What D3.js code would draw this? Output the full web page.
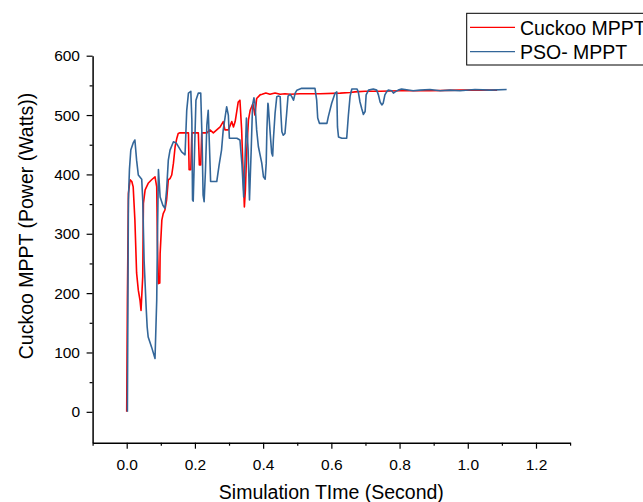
<!DOCTYPE html>
<html>
<head>
<meta charset="utf-8">
<script src="https://cdn.jsdelivr.net/npm/d3@7"></script>
<style>
body { margin: 0; background: #fff; }
svg text { font-family: "Liberation Sans", Arial, sans-serif; fill: #000; }
</style>
</head>
<body>
<div id="chart"></div>
<script>
// values
let cuckooTime = [0, 0.002, 0.005, 0.010, 0.015, 0.019, 0.024, 0.029, 0.034, 0.039, 0.042, 0.047, 0.049, 0.054, 0.063, 0.073, 0.083, 0.088, 0.090, 0.093, 0.097, 0.098, 0.103, 0.107, 0.112, 0.117, 0.122, 0.127, 0.132, 0.137, 0.142, 0.147, 0.151, 0.156, 0.181, 0.183, 0.188, 0.191, 0.210, 0.213, 0.217, 0.220, 0.235, 0.244, 0.254, 0.264, 0.274, 0.283, 0.288, 0.298, 0.308, 0.313, 0.318, 0.327, 0.332, 0.337, 0.342, 0.345, 0.348, 0.352, 0.357, 0.362, 0.370, 0.376, 0.381, 0.391, 0.397, 0.408, 0.420, 0.435, 0.450, 0.464, 0.479, 0.508, 0.567, 0.626, 0.655, 0.669, 0.699, 0.743, 0.802, 0.889, 0.977, 1.086];
let cuckooPower = [0, 188, 368, 391, 388, 379, 323, 234, 205, 188, 171, 228, 351, 374, 385, 391, 396, 379, 289, 216, 217, 267, 323, 334, 340, 357, 391, 393, 399, 419, 447, 461, 469, 470, 470, 408, 408, 470, 470, 416, 416, 470, 470, 475, 470, 475, 480, 489, 475, 475, 489, 480, 489, 522, 525, 475, 391, 345, 374, 441, 492, 508, 519, 500, 528, 534, 535, 537, 535, 537, 535, 536, 535, 536, 536, 537, 538, 539, 540, 540, 541, 541, 542, 542];

let psoTime = [0.002, 0.005, 0.008, 0.012, 0.019, 0.024, 0.029, 0.034, 0.044, 0.047, 0.051, 0.057, 0.060, 0.063, 0.073, 0.083, 0.088, 0.090, 0.093, 0.098, 0.106, 0.112, 0.117, 0.122, 0.127, 0.137, 0.145, 0.161, 0.171, 0.176, 0.181, 0.188, 0.191, 0.193, 0.195, 0.199, 0.203, 0.210, 0.217, 0.221, 0.224, 0.227, 0.231, 0.235, 0.239, 0.243, 0.246, 0.264, 0.271, 0.278, 0.283, 0.293, 0.298, 0.301, 0.323, 0.332, 0.338, 0.343, 0.347, 0.351, 0.356, 0.360, 0.365, 0.369, 0.373, 0.376, 0.381, 0.386, 0.396, 0.401, 0.406, 0.409, 0.411, 0.414, 0.415, 0.420, 0.425, 0.428, 0.430, 0.435, 0.440, 0.445, 0.450, 0.452, 0.455, 0.459, 0.464, 0.469, 0.473, 0.479, 0.484, 0.489, 0.494, 0.499, 0.513, 0.552, 0.557, 0.560, 0.565, 0.587, 0.591, 0.601, 0.611, 0.616, 0.618, 0.621, 0.631, 0.645, 0.650, 0.655, 0.660, 0.675, 0.679, 0.684, 0.689, 0.694, 0.699, 0.702, 0.709, 0.723, 0.733, 0.738, 0.743, 0.748, 0.752, 0.757, 0.762, 0.767, 0.777, 0.782, 0.787, 0.796, 0.806, 0.840, 0.860, 0.889, 0.919, 0.948, 0.977, 1.021, 1.065, 1.114];
let psoPower = [0, 357, 408, 441, 453, 458, 424, 399, 392, 357, 255, 176, 143, 126, 109, 90, 188, 289, 408, 362, 348, 343, 374, 424, 441, 455, 453, 438, 433, 508, 537, 540, 492, 357, 355, 441, 525, 537, 537, 458, 365, 354, 408, 483, 508, 441, 388, 388, 416, 441, 475, 514, 500, 461, 461, 458, 416, 362, 425, 495, 441, 357, 441, 517, 529, 520, 475, 447, 419, 396, 392, 419, 475, 520, 517, 475, 436, 431, 458, 503, 531, 532, 531, 503, 472, 466, 469, 503, 532, 535, 531, 525, 537, 542, 545, 545, 525, 495, 486, 486, 497, 520, 537, 539, 480, 463, 461, 461, 500, 532, 544, 544, 539, 522, 511, 501, 506, 534, 542, 544, 542, 534, 522, 517, 520, 534, 539, 542, 541, 537, 539, 542, 544, 541, 542, 543, 541, 542, 541, 543, 542, 543];

let xTicks = [0, 0.2, 0.4, 0.6, 0.8, 1.0, 1.2];
let xMinorTicks = [-0.1, 0.1, 0.3, 0.5, 0.7, 0.9, 1.1, 1.3];
let yTicks = [0, 100, 200, 300, 400, 500, 600];
let yMinorTicks = [50, 150, 250, 350, 450, 550];
let seriesNames = ["Cuckoo MPPT", "PSO- MPPT"];
let seriesColors = ["#ff0000", "#336699"];

let width = 643, height = 502;
let plotLeft = 92.6, plotRight = 570.1, plotTop = 55.7, plotBottom = 442.7;

let svg = d3.select("#chart").append("svg")
  .attr("width", width)
  .attr("height", height)
  .style("display", "block");

let x = d3.scaleLinear().domain([-0.1, 1.3]).range([plotLeft, plotRight]);
let y = d3.scaleLinear().domain([-52, 600]).range([plotBottom, plotTop]);

let line = d3.line()
  .x(function(d) { return x(d[0]); })
  .y(function(d) { return y(d[1]); });

let series = [d3.zip(cuckooTime, cuckooPower), d3.zip(psoTime, psoPower)];

series.forEach(function(s, i) {
  svg.append("path")
    .datum(s)
    .attr("fill", "none")
    .attr("stroke", seriesColors[i])
    .attr("stroke-width", 1.6)
    .attr("stroke-linejoin", "round")
    .attr("d", line);
});

// x axis, major then minor ticks
let gx = svg.append("g").attr("transform", "translate(0," + plotBottom + ")");
gx.call(d3.axisBottom(x).tickValues(xTicks).tickSize(6).tickSizeOuter(0)
  .tickPadding(10.5).tickFormat(d3.format(".1f")));
gx.append("g").call(d3.axisBottom(x).tickValues(xMinorTicks).tickSize(3).tickFormat(""))
  .select(".domain").remove();

let gy = svg.append("g").attr("transform", "translate(" + plotLeft + ",0)");
gy.call(d3.axisLeft(y).tickValues(yTicks).tickSize(6).tickSizeOuter(0).tickPadding(6.6));
gy.append("g").call(d3.axisLeft(y).tickValues(yMinorTicks).tickSize(3).tickFormat(""))
  .select(".domain").remove();

svg.selectAll(".domain").attr("stroke", "#000").attr("stroke-width", 1.5);
svg.selectAll(".tick line").attr("stroke", "#000").attr("stroke-width", 1.2);
svg.selectAll(".tick text").attr("font-size", "15.5px")
  .style("font-family", "'Liberation Sans', Arial, sans-serif");

// axis titles
svg.append("text")
  .attr("x", (plotLeft + plotRight) / 2)
  .attr("y", 498.5)
  .attr("text-anchor", "middle")
  .attr("font-size", "19.5px")
  .text("Simulation TIme (Second)");

svg.append("text")
  .attr("transform", "translate(32.5,226) rotate(-90)")
  .attr("text-anchor", "middle")
  .attr("font-size", "19.5px")
  .text("Cuckoo MPPT (Power (Watts))");

// legend
let legend = svg.append("g");
legend.append("rect")
  .attr("x", 466.7).attr("y", 13.3)
  .attr("width", 200).attr("height", 51.7)
  .attr("fill", "#fff").attr("stroke", "#000").attr("stroke-width", 1);

seriesNames.forEach(function(name, i) {
  let ly = 27.3 + i * 24.4;
  legend.append("line")
    .attr("x1", 470).attr("x2", 515)
    .attr("y1", ly).attr("y2", ly)
    .attr("stroke", seriesColors[i]).attr("stroke-width", 1.2);
  legend.append("text")
    .attr("x", 520).attr("y", ly + 7.2)
    .attr("font-size", "19.5px")
    .text(name);
});
</script>
</body>
</html>
